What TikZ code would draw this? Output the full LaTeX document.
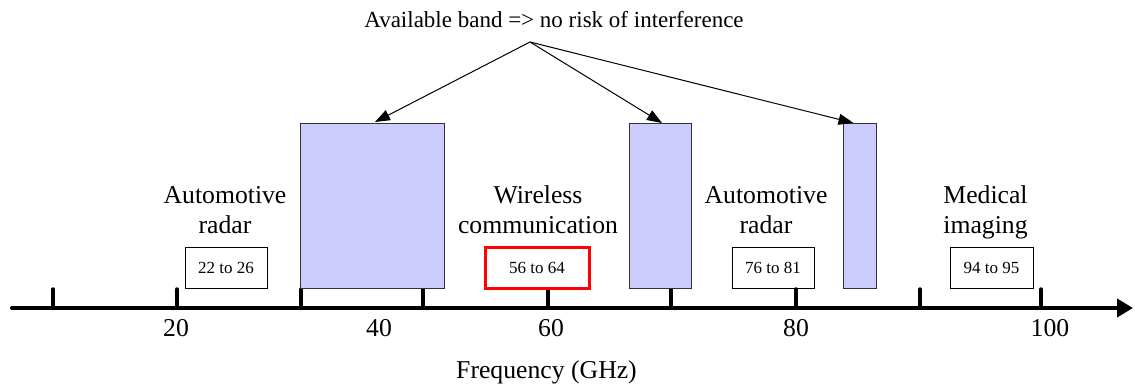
\documentclass[tikz,border=0pt]{standalone}
\usepackage{fontspec}
\setmainfont{Liberation Serif}
\usetikzlibrary{arrows.meta,calc}
\definecolor{bandfill}{HTML}{CCCCFF}
\definecolor{bandline}{HTML}{333333}
\definecolor{hired}{HTML}{FF0000}
\begin{document}
\begin{tikzpicture}[x=1pt,y=-1pt,
  axisline/.style={line width=4pt,line cap=round,-{Triangle[length=16pt,width=18pt]}},
  tickmark/.style={line width=3.5pt,line cap=round},
  band/.style={draw=bandline,fill=bandfill,line width=1pt,inner sep=0pt,outer sep=0pt},
  rangebox/.style={draw=black,line width=1pt,inner sep=0pt,minimum width=82pt,minimum height=41pt,font=\fontsize{17}{20}\selectfont},
  cat/.style={align=center,anchor=base,font=\fontsize{25.7}{29.5}\selectfont},
  ticklabel/.style={anchor=base,font=\fontsize{25.7}{30}\selectfont},
  ptr/.style={line width=1pt,-{Triangle[length=15pt,width=11pt]}}
]
\useasboundingbox (0,0) rectangle (1135,385);

% axis
\draw[axisline] (12,308) -- (1133,308);
\foreach \t in {53,177,301,423,548,671,796,920,1041}
  \draw[tickmark] (\t,289) -- (\t,308);

% tick labels
\node[ticklabel] (l20) at (176,336) {20};
\node[ticklabel] (l40) at (379,336) {40};
\node[ticklabel] (l60) at (551,336) {60};
\node[ticklabel] (l80) at (796,336) {80};
\node[ticklabel] (l100) at (1050,336) {100};
\node[ticklabel] (freq) at (546.5,378) {Frequency (GHz)};

% available bands
\node[band,minimum width=144pt,minimum height=164pt] (b1) at (372,206) {};
\node[band,minimum width=62pt,minimum height=164pt] (b2) at (660,206) {};
\node[band,minimum width=33pt,minimum height=164pt] (b3) at (859.5,206) {};

% range boxes
\node[rangebox] (r1) at (226,267.5) {22 to 26};
\node[rangebox,draw=hired,line width=3pt,minimum width=104pt] (r2) at (537,268) {56 to 64};
\node[rangebox] (r3) at (773,267.5) {76 to 81};
\node[rangebox,minimum width=83pt] (r4) at (991.5,267.5) {94 to 95};

% categories (base anchor = baseline of last line)
\node[cat] (c1) at (225,233) {Automotive\\radar};
\node[cat] (c2) at (538,233) {Wireless\\communication};
\node[cat] (c3) at (766,233) {Automotive\\radar};
\node[cat] (c4) at (985.5,233) {Medical\\imaging};

% title and pointers
\node[anchor=base,font=\fontsize{23}{27}\selectfont] (title) at (554,28) {Available band => no risk of interference};
\coordinate (src) at (530,42);
\draw[ptr] (src) -- ($(b1.north)+(3,-2)$);
\draw[ptr] (src) -- ($(b2.north)+(2,-1)$);
\draw[ptr] (src) -- ($(b3.north)+(-6,-1)$);
\end{tikzpicture}
\end{document}
